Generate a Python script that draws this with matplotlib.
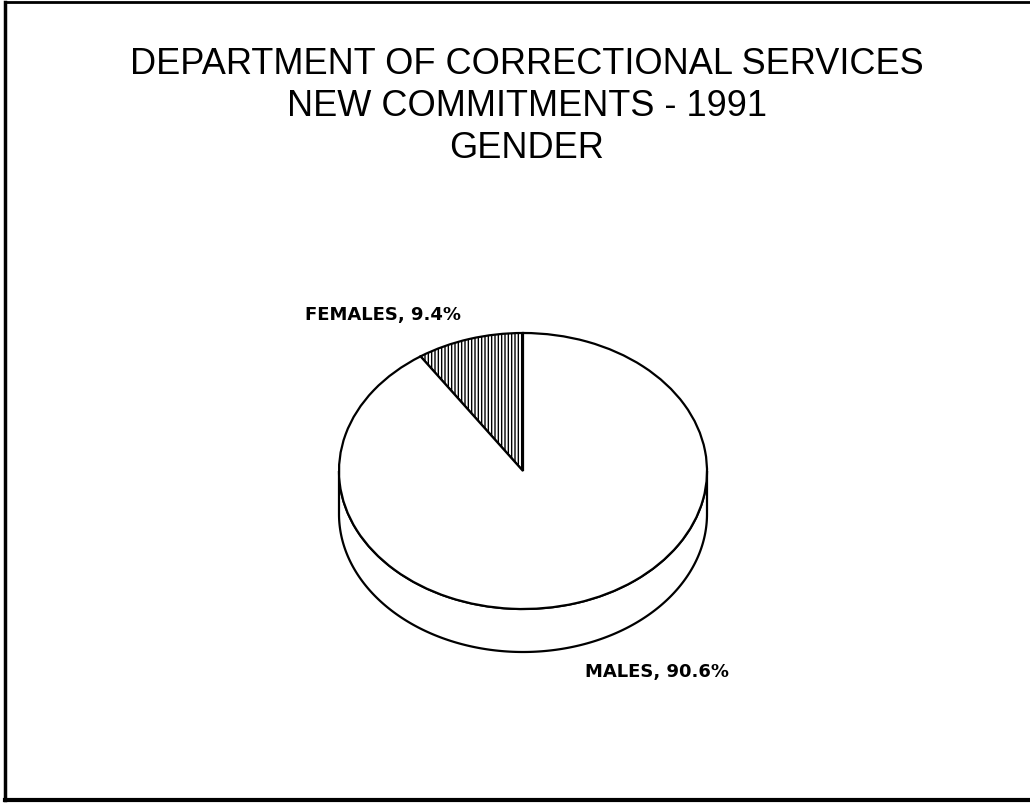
import matplotlib.pyplot as plt
import numpy as np
from matplotlib.patches import Polygon

plt.rcParams['font.family'] = ['Liberation Sans', 'DejaVu Sans']
plt.rcParams['hatch.linewidth'] = 1.0

# data
title_lines = ['DEPARTMENT OF CORRECTIONAL SERVICES', 'NEW COMMITMENTS - 1991', 'GENDER']
genders = ['FEMALES', 'MALES']
shares = [9.4, 90.6]
hatches = ['|||||', '']

fig = plt.figure(figsize=(10.30, 8.09), dpi=100)

# page frame (scanned sheet)
fig.add_artist(plt.Line2D([0.005, 0.005], [0.011, 0.997], color='black', lw=2.5))
fig.add_artist(plt.Line2D([0.005, 1.0], [0.997, 0.997], color='black', lw=2))
fig.add_artist(plt.Line2D([0.005, 1.0], [0.011, 0.011], color='black', lw=3))

# title
for i, line in enumerate(title_lines):
    fig.text(527 / 1030, 1 - (65 + i * 41.5) / 809, line, ha='center', va='center',
             fontsize=26)

# pie axes: centre at (523, 471) px, rx 184 px, ry 138 px
cx, cy, rx, ry = 523, 471, 184, 138
left, right, top, bottom = cx - 200, cx + 200, cy - 150, cy + 200
ax = fig.add_axes([left / 1030, 1 - bottom / 809, (right - left) / 1030, (bottom - top) / 809])
ax.set_axis_off()

# thickness of the disc (front half of the rim)
depth = 43 / ry
t = np.linspace(np.pi, 2 * np.pi, 200)
rim = np.concatenate([np.c_[np.cos(t), np.sin(t) - depth],
                      np.c_[np.cos(t[::-1]), np.sin(t[::-1])]])
ax.add_patch(Polygon(rim, closed=True, facecolor='white', edgecolor='black', lw=1.6))

wedges, _ = ax.pie(shares, startangle=90, counterclock=True, radius=1,
                   colors=['white', 'white'],
                   wedgeprops=dict(edgecolor='black', linewidth=1.6))
for w, h in zip(wedges, hatches):
    w.set_hatch(h)
ax.set_aspect('auto')
ax.set_xlim(-200 / rx, 200 / rx)
ax.set_ylim(-200 / ry, 150 / ry)

labels = [f'{g}, {s}%' for g, s in zip(genders, shares)]
fig.text(383 / 1030, 1 - 315 / 809, labels[0], ha='center', va='center',
         fontsize=13, fontweight='bold', family='DejaVu Sans')
fig.text(657 / 1030, 1 - 672 / 809, labels[1], ha='center', va='center',
         fontsize=13, fontweight='bold', family='DejaVu Sans')

fig.savefig('out.png', dpi=100, facecolor='white')
